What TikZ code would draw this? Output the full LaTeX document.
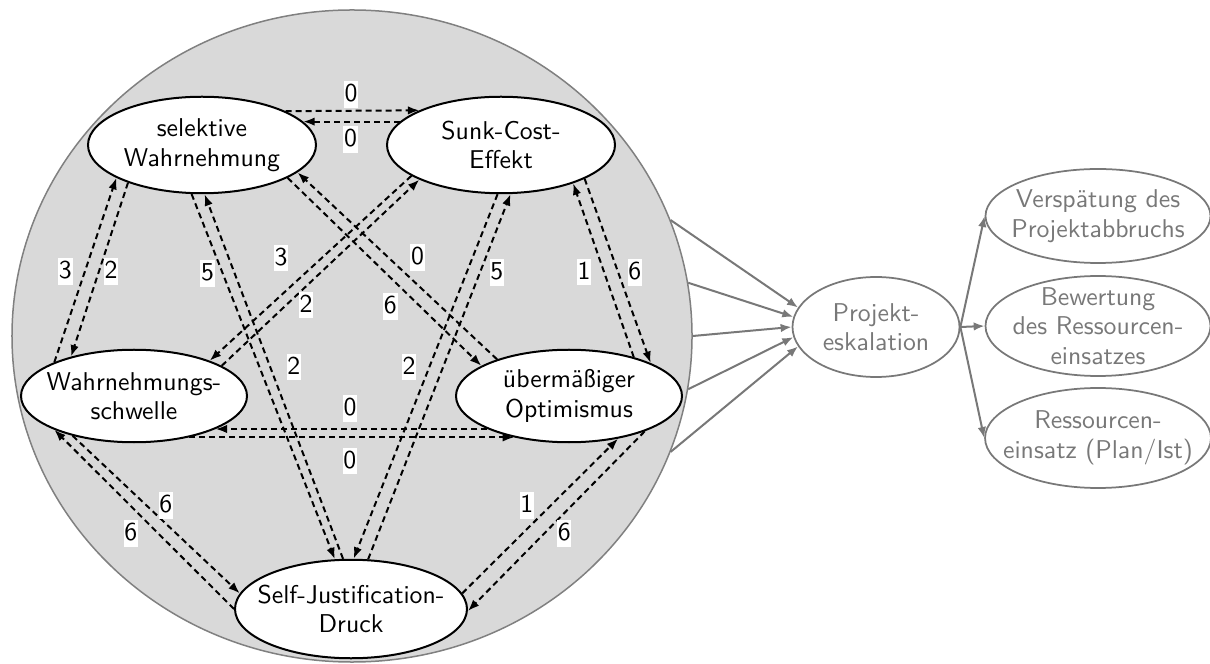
\documentclass[tikz,border=0pt]{standalone}
\usepackage{fontspec}
\usetikzlibrary{shapes.geometric,arrows.meta}
\definecolor{bg}{gray}{0.85}
\definecolor{rim}{gray}{0.5}
\definecolor{gt}{gray}{0.47}
\tikzset{
  every node/.style={font=\sffamily\fontsize{10.3}{11.8}\selectfont},
  inner/.style={ellipse, draw=black, line width=0.8pt, fill=white, inner sep=-6pt, align=center},
  outer/.style={ellipse, draw=gt, line width=0.7pt, text=gt, inner sep=-6pt, align=center},
  dl/.style={draw=black, line width=0.8pt, dash pattern=on 2.4pt off 1.6pt, -{Latex[length=4.6pt,width=3.4pt]}},
  ga/.style={draw=gt, line width=0.8pt, -{Latex[length=4.4pt,width=3.4pt]}},
  lbl/.style={fill=white, inner xsep=0.3pt, inner ysep=0.8pt, text height=7.4pt, text depth=1.7pt},
}
\begin{document}
\begin{tikzpicture}[x=0.4pt,y=-0.4pt]
\useasboundingbox (0,0) rectangle (1210,664);
% big circle
\node[ellipse, draw=rim, fill=bg, line width=0.6pt, minimum width=272pt, minimum height=260.8pt, inner sep=0pt] (C) at (352,336) {};
% inner nodes
\node[inner, minimum width=91.2pt, minimum height=38.6pt] (S) at (202,145) {selektive\\Wahrnehmung};
\node[inner, minimum width=91.2pt, minimum height=38.6pt] (K) at (501,145) {Sunk-Cost-\\Effekt};
\node[inner, minimum width=90.4pt, minimum height=37pt] (W) at (134,396) {Wahrnehmungs-\\schwelle};
\node[inner, minimum width=90.4pt, minimum height=37pt] (O) at (569,396) {übermäßiger\\Optimismus};
\node[inner, minimum width=92.8pt, minimum height=39.4pt] (J) at (351,609) {Self-Justification-\\Druck};
% outer nodes
\node[outer, minimum width=66.8pt, minimum height=40pt] (P) at (876,327) {Projekt-\\eskalation};
\node[outer, minimum width=90pt, minimum height=37.6pt] (V) at (1098,216) {Verspätung des\\Projektabbruchs};
\node[outer, minimum width=90pt, minimum height=40pt] (B) at (1098,326) {Bewertung\\des Ressourcen-\\einsatzes};
\node[outer, minimum width=90pt, minimum height=40pt] (R) at (1098,438) {Ressourcen-\\einsatz (Plan/Ist)};
% dashed connectors
\draw[dl] (S.22.8) -- node[lbl,pos=0.49,yshift=6.4pt]{0} (K.157.2);
\draw[dl] (K.167) -- node[lbl,pos=0.51,yshift=-7.2pt]{0} (S.13);
\draw[dl] (W.157.4) -- node[lbl,pos=0.46,xshift=-7pt,yshift=2.4pt]{3} (S.201.6);
\draw[dl] (S.207.9) -- node[lbl,pos=0.49,xshift=4.4pt,yshift=-1.5pt]{2} (W.148.2);
\draw[dl] (O.31.8) -- node[lbl,pos=0.524,xshift=-7.2pt,yshift=-2.4pt]{1} (K.332.1);
\draw[dl] (K.338.4) -- node[lbl,pos=0.535,xshift=5.9pt,yshift=2pt]{6} (O.22.6);
\draw[dl] (S.258.2) -- node[lbl,pos=0.204,xshift=-5.3pt,yshift=-2.1pt]{5} (J.108.3);
\draw[dl] (J.99.3) -- node[lbl,pos=0.505,xshift=8.3pt,yshift=3.1pt]{2} (S.273.6);
\draw[dl] (K.266.4) -- node[lbl,pos=0.493,xshift=-7pt,yshift=2.8pt]{2} (J.87.7);
\draw[dl] (J.71.7) -- node[lbl,pos=0.8,xshift=5.9pt,yshift=-2.2pt]{5} (K.281.8);
\draw[dl] (S.-21.2) -- node[lbl,pos=0.605,xshift=-5.8pt,yshift=-6pt]{6} (O.161.3);
\draw[dl] (O.153.2) -- node[lbl,pos=0.466,xshift=5.4pt,yshift=5.9pt]{0} (S.-16.6);
\draw[dl] (K.199.1) -- node[lbl,pos=0.554,xshift=-7.4pt,yshift=8.1pt]{3} (W.25.2);
\draw[dl] (W.19.1) -- node[lbl,pos=0.38,xshift=3.7pt,yshift=-4pt]{2} (K.203.7);
\draw[dl] (O.-158) -- node[lbl,pos=0.505,yshift=8.2pt]{0} (O.-158 -| W.-22);
\draw[dl] (W.-37) -- node[lbl,pos=0.495,yshift=-9.4pt]{0} (W.-37 -| O.-143);
\draw[dl] (W.213) -- node[lbl,pos=0.503,xshift=3.6pt,yshift=3.9pt]{6} (J.172);
\draw[dl] (J.180) -- node[lbl,pos=0.498,xshift=-5.5pt,yshift=-5.5pt]{6} (W.203.1);
\draw[dl] (J.8) -- node[lbl,pos=0.491,xshift=-4.8pt,yshift=4.8pt]{1} (O.-41.6);
\draw[dl] (O.-25.2) -- node[lbl,pos=0.512,xshift=4pt,yshift=-4pt]{6} (J.-1);
% gray arrows
\foreach \a/\b in {20/166, 9/173, 0/180, -9/187, -20/194}
  \draw[ga] (C.\a) -- (P.\b);
\draw[ga] (P.east) -- (V.west);
\draw[ga] (P.east) -- (B.west);
\draw[ga] (P.east) -- (R.west);
\end{tikzpicture}
\end{document}
